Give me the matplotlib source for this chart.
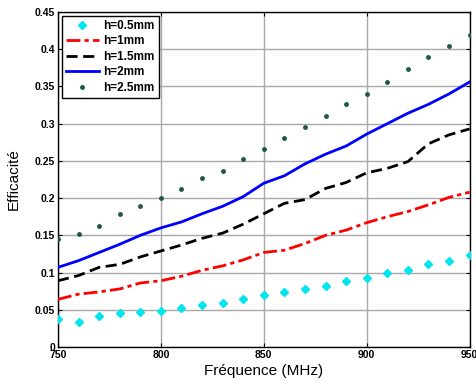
import matplotlib
matplotlib.use("Agg")
import matplotlib.pyplot as plt

freq = [750, 760, 770, 780, 790, 800, 810, 820, 830, 840, 850,
        860, 870, 880, 890, 900, 910, 920, 930, 940, 950]
h05 = [0.037, 0.033, 0.041, 0.046, 0.047, 0.048, 0.052, 0.056, 0.059, 0.064, 0.070,
       0.074, 0.078, 0.082, 0.089, 0.093, 0.100, 0.104, 0.111, 0.116, 0.123]
h1 = [0.064, 0.071, 0.074, 0.078, 0.086, 0.089, 0.095, 0.103, 0.109, 0.117, 0.127,
      0.130, 0.139, 0.150, 0.157, 0.167, 0.175, 0.182, 0.191, 0.201, 0.208]
h15 = [0.089, 0.096, 0.107, 0.111, 0.121, 0.129, 0.137, 0.146, 0.153, 0.165, 0.179,
       0.193, 0.198, 0.213, 0.221, 0.234, 0.240, 0.249, 0.273, 0.285, 0.293]
h2 = [0.107, 0.116, 0.127, 0.138, 0.150, 0.160, 0.168, 0.179, 0.189, 0.202, 0.220,
      0.230, 0.246, 0.259, 0.270, 0.286, 0.300, 0.314, 0.326, 0.340, 0.356]
h25 = [0.145, 0.152, 0.163, 0.179, 0.190, 0.200, 0.212, 0.227, 0.237, 0.252, 0.266,
       0.281, 0.296, 0.310, 0.326, 0.340, 0.356, 0.374, 0.389, 0.404, 0.419]
labels = ["h=0.5mm", "h=1mm", "h=1.5mm", "h=2mm", "h=2.5mm"]
xticks = [750, 800, 850, 900, 950]
yticks = [0, 0.05, 0.1, 0.15, 0.2, 0.25, 0.3, 0.35, 0.4, 0.45]
ytick_labels = ["0", "0.05", "0.1", "0.15", "0.2", "0.25", "0.3", "0.35", "0.4", "0.45"]

plt.rcParams['font.family'] = ['Liberation Sans', 'DejaVu Sans']

fig = plt.figure(figsize=(4.76, 3.85), dpi=100)
ax = fig.add_axes([0.1218, 0.0987, 0.8648, 0.8701])

ax.plot(freq, h05, linestyle='none', marker='D', markersize=3.8, color='#00e5ee',
        markeredgecolor='#00e5ee', label=labels[0], zorder=3)
ax.plot(freq, h1, linestyle=(0, (5, 1.5, 1.5, 1.5)), linewidth=2, color='red', label=labels[1], zorder=3)
ax.plot(freq, h15, linestyle=(0, (4, 2)), linewidth=2, color='black', label=labels[2], zorder=3)
ax.plot(freq, h2, linestyle='-', linewidth=2, color='blue', label=labels[3], zorder=3)
ax.plot(freq, h25, linestyle='none', marker='o', markersize=2.5, color='#1f5a3f', label=labels[4], zorder=3)

ax.set_xlim(750, 950)
ax.set_ylim(0, 0.45)
ax.set_xticks(xticks)
ax.set_yticks(yticks)
ax.set_yticklabels(ytick_labels)
ax.tick_params(axis='both', direction='in', top=True, right=True, length=3, labelsize=7.5, pad=2)
for lab in ax.get_xticklabels() + ax.get_yticklabels():
    lab.set_fontweight('bold')
ax.grid(True, color='#a8a8a8', linewidth=1, linestyle='-')
ax.set_axisbelow(True)
for s in ax.spines.values():
    s.set_linewidth(1)
    s.set_color('black')

ax.set_xlabel("Fréquence (MHz)", fontsize=11, labelpad=3)
ax.set_ylabel("Efficacité", fontsize=11, labelpad=10)

leg = ax.legend(loc='upper left', prop={'weight': 'bold', 'size': 8.5},
                frameon=True, fancybox=False, edgecolor='black', framealpha=1,
                borderaxespad=0.3, handlelength=2.8, labelspacing=0.3, borderpad=0.35,
                handletextpad=0.4)
leg.get_frame().set_linewidth(1)

fig.savefig("out.png", dpi=100)
